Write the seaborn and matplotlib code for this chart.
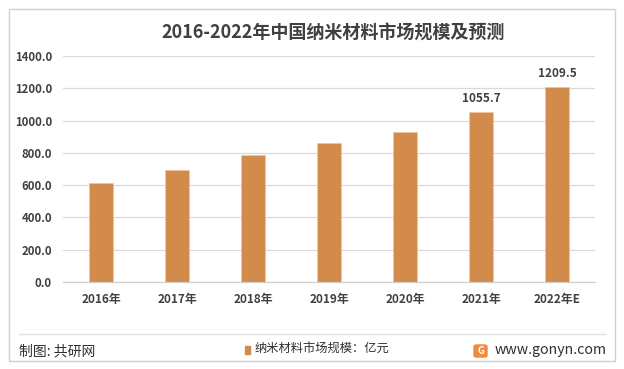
import matplotlib
matplotlib.use("Agg")
import matplotlib.pyplot as plt
from matplotlib.patches import Rectangle, FancyBboxPatch
import seaborn as sns

# data
years = ["2016年", "2017年", "2018年", "2019年", "2020年", "2021年", "2022年E"]
market_size = [611.0, 692.0, 786.0, 859.0, 927.0, 1055.7, 1209.5]
labelled = {"2021年": "1055.7", "2022年E": "1209.5"}
y_ticks = [0, 200, 400, 600, 800, 1000, 1200, 1400]

sns.set_style("white")
plt.rcParams['font.family'] = ['Noto Sans CJK SC', 'DejaVu Sans']

bar_color = "#D38B4B"
text_color = "#404040"

fig = plt.figure(figsize=(6.24, 3.69), dpi=100)
W, H = 624, 369
ax = fig.add_axes([63 / W, 1 - 282 / H, (595 - 63) / W, (282 - 56) / H])

sns.barplot(x=years, y=market_size, color=bar_color, width=0.31,
            edgecolor="#F2C49C", linewidth=0.6, saturation=1, ax=ax)

ax.set_ylim(0, 1400)
ax.set_xlim(-0.5, len(years) - 0.5)
ax.set_yticks(y_ticks)
ax.set_yticklabels([f"{v:.1f}" for v in y_ticks], fontsize=8.2,
                   fontweight="bold", color=text_color)
ax.tick_params(axis="x", labelsize=8.5, colors=text_color, length=0, pad=8)
ax.tick_params(axis="y", length=0, pad=8)
for lab in ax.get_xticklabels():
    lab.set_fontweight("bold")
ax.yaxis.grid(True, color="#D9D9D9", linewidth=0.9)
ax.set_axisbelow(True)
for s in ["top", "right", "left"]:
    ax.spines[s].set_visible(False)
ax.spines["bottom"].set_color("#D0D0D0")
ax.spines["bottom"].set_linewidth(0.9)
ax.set_xlabel("")
ax.set_ylabel("")

for i, yr in enumerate(years):
    if yr in labelled:
        ax.annotate(labelled[yr], (i, market_size[i]), xytext=(0, 5),
                    textcoords="offset points", ha="center", va="bottom",
                    fontsize=8.5, fontweight="bold", color=text_color)

# frame
fig.patches.append(Rectangle((9 / W, 1 - 361 / H), (615 - 9) / W, (361 - 9) / H,
                             transform=fig.transFigure, fill=False,
                             edgecolor="#D0D0D0", linewidth=1))
fig.add_artist(plt.Line2D([19 / W, 606 / W], [1 - 334 / H, 1 - 334 / H],
                          color="#E3E3E3", linewidth=1))

fig.text(333 / W, 1 - 33 / H, "2016-2022年中国纳米材料市场规模及预测",
         ha="center", va="center", fontsize=13, fontweight="bold", color=text_color)

# footer
fig.text(19 / W, 1 - 351 / H, "制图: 共研网", ha="left", va="center",
         fontsize=10, color="#303030")
fig.patches.append(Rectangle((245 / W, 1 - 354 / H), 5 / W, 8 / H,
                             transform=fig.transFigure, color=bar_color))
fig.text(255 / W, 1 - 349 / H, "纳米材料市场规模：亿元", ha="left", va="center",
         fontsize=8.8, color="#303030")
fig.patches.append(FancyBboxPatch((474 / W, 1 - 357 / H), 13 / W, 12 / H,
                                  boxstyle="round,pad=0,rounding_size=0.004",
                                  transform=fig.transFigure, color="#F08A3C"))
fig.text(480.5 / W, 1 - 351 / H, "G", ha="center", va="center",
         fontsize=7, fontweight="bold", color="white")
fig.text(495 / W, 1 - 350 / H, "www.gonyn.com", ha="left", va="center",
         fontsize=10.2, color="#303030")

fig.savefig("out.png", dpi=100)
